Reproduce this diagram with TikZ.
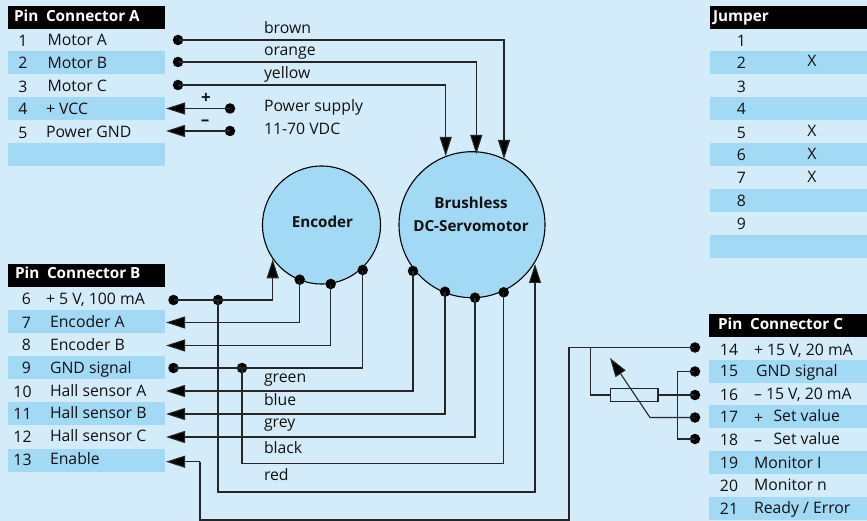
\documentclass[tikz,border=0pt]{standalone}
\usepackage{fontspec}
\setmainfont{Open Sans}
\usetikzlibrary{arrows.meta,calc}
\definecolor{bgc}{HTML}{D4ECFA}
\definecolor{rowc}{HTML}{A2D9F5}
\definecolor{inkc}{HTML}{111111}
\tikzset{
  lab/.style={inner sep=0pt,outer sep=0pt,text=inkc,font=\fontsize{15.8}{17}\selectfont,anchor=mid west,yshift=-2pt},
  num/.style={lab,anchor=mid},
  hd/.style={lab,text=white,font=\fontsize{15.3}{17}\selectfont\bfseries},
  bigb/.style={lab,anchor=mid,font=\fontsize{15.2}{17}\selectfont\bfseries},
  band/.style={fill=rowc,draw=none},
  headband/.style={fill=black,draw=none},
  pin/.style={circle,fill=black,inner sep=0pt,minimum size=10.5pt,outer sep=0pt},
  wire/.style={draw=black!85,line width=1.1pt},
  arrowwire/.style={wire,-{Triangle[length=19pt,width=12pt,fill=black]}},
  ball/.style={circle,draw=black,fill=rowc,line width=1.1pt,inner sep=0pt},
}
\begin{document}
\begin{tikzpicture}[x=1pt,y=-1pt]
\useasboundingbox (0,0) rectangle (867,521);
\fill[bgc] (0,0) rectangle (867,521);
% bands
\fill[headband] (8,6) rectangle (165,29);
\fill[headband] (8,264) rectangle (165,287);
\fill[headband] (709,314) rectangle (867,337);
\fill[headband] (710,6) rectangle (867,29);
\foreach \y/\h in {51/23,97/23,143/23}{\fill[band] (8,\y) rectangle (165,\y+\h);}
\foreach \y in {310,356,402,449}{\fill[band] (8,\y) rectangle (165,\y+23);}
\foreach \y in {360,405,451,497}{\fill[band] (709,\y) rectangle (867,\y+23);}
\foreach \y in {51,97,143,189,235}{\fill[band] (710,\y) rectangle (867,\y+23);}
% headers
\node[hd] (ha1) at (14,17) {Pin};
\node[hd] (ha2) at (46,17) {Connector A};
\node[hd] (hb1) at (15,274) {Pin};
\node[hd] (hb2) at (47,274) {Connector B};
\node[hd] (hc1) at (718,325) {Pin};
\node[hd] (hc2) at (750,325) {Connector C};
\node[hd] (hj) at (713,17) {Jumper};
% table A
\node[num] (na1) at (23,41.5) {1};
\node[num] (na2) at (23,64) {2};
\node[num] (na3) at (23,87.5) {3};
\node[num] (na4) at (23,110) {4};
\node[num] (na5) at (23,133.5) {5};
\node[lab] (la1) at (47.5,40.7) {Motor A};
\node[lab] (la2) at (47.5,63.5) {Motor B};
\node[lab] (la3) at (47.5,86.5) {Motor C};
\node[lab] (la4) at (46,109.5) {+ VCC};
\node[lab] (la5) at (46,132.5) {Power GND};
% table B
\node[num] (nb6) at (26.5,300) {6};
\node[num] (nb7) at (26.5,324) {7};
\node[num] (nb8) at (26.5,346) {8};
\node[num] (nb9) at (26.5,369) {9};
\node[num] (nb10) at (22.5,392.5) {10};
\node[num] (nb11) at (22.5,414.5) {11};
\node[num] (nb12) at (22.5,437.5) {12};
\node[num] (nb13) at (22.5,460.5) {13};
\node[lab] (lb6) at (46,299.5) {+ 5 V, 100 mA};
\node[lab] (lb7) at (50,323) {Encoder A};
\node[lab] (lb8) at (50,345.5) {Encoder B};
\node[lab] (lb9) at (50,368.5) {GND signal};
\node[lab] (lb10) at (50,391.5) {Hall sensor A};
\node[lab] (lb11) at (50,413.5) {Hall sensor B};
\node[lab] (lb12) at (50,436.5) {Hall sensor C};
\node[lab] (lb13) at (50,459.5) {Enable};
% table C
\node[num] (nc14) at (729,351) {14};
\node[num] (nc15) at (729,372) {15};
\node[num] (nc16) at (729,396) {16};
\node[num] (nc17) at (729,418) {17};
\node[num] (nc18) at (729,441) {18};
\node[num] (nc19) at (729,464) {19};
\node[num] (nc20) at (729,487) {20};
\node[num] (nc21) at (729,510) {21};
\node[lab] (lc14) at (754,350.5) {+ 15 V, 20 mA};
\node[lab] (lc15) at (756,371.5) {GND signal};
\node[lab] (lc16) at (754,395) {– 15 V, 20 mA};
\node[lab] (lc17a) at (754,419) {+};
\node[lab] (lc17) at (773.5,417) {Set value};
\node[lab] (lc18a) at (754,441) {–};
\node[lab] (lc18) at (773.5,439.5) {Set value};
\node[lab] (lc19) at (754,463.5) {Monitor I};
\node[lab] (lc20) at (754,486) {Monitor n};
\node[lab] (lc21) at (754,508.5) {Ready / Error};
% jumper
\node[num] (j1) at (741.5,41.5) {1};
\node[num] (j2) at (741.5,64) {2};
\node[num] (j3) at (741.5,87.5) {3};
\node[num] (j4) at (741.5,110) {4};
\node[num] (j5) at (741.5,133.5) {5};
\node[num] (j6) at (741.5,156) {6};
\node[num] (j7) at (741.5,179) {7};
\node[num] (j8) at (741.5,202) {8};
\node[num] (j9) at (741.5,225) {9};
\node[num] (x2) at (812,62) {X};
\node[num] (x5) at (812,132) {X};
\node[num] (x6) at (812,155) {X};
\node[num] (x7) at (812,178) {X};
% wire labels
\node[lab] (wbrown) at (264,29) {brown};
\node[lab] (worange) at (264,51) {orange};
\node[lab] (wyellow) at (264,74) {yellow};
\node[lab] (psa) at (264,107) {Power supply};
\node[lab] (psb) at (264,130) {11-70 VDC};
\node[lab] (wgreen) at (264,378) {green};
\node[lab] (wblue) at (264,401) {blue};
\node[lab] (wgrey) at (264,423) {grey};
\node[lab] (wblack) at (264,449) {black};
\node[lab] (wred) at (264,476) {red};
\node[num,font=\fontsize{17}{18}\selectfont\bfseries] (plus) at (206,98.5) {+};
\node[num,font=\fontsize{17}{18}\selectfont\bfseries] (minus) at (205,121) {–};
% balls
\node[ball,minimum size=118pt] (enc) at (321.5,225) {};
\node[ball,minimum size=146pt] (mot) at (472,224.7) {};
\node[bigb] (enct) at (322.5,222.5) {Encoder};
\node[bigb] (mota) at (471,203.5) {Brushless};
\node[bigb] (motb) at (471,226.5) {DC-Servomotor};
% pins
\foreach \n/\x/\y in {pa1/178/40,pa2/178/62,pa3/178/85,pp/230/108.5,pm/230/131,
  pb6/173.5/300,jb6/218/300,pb9/173.5/368,jb9/242/368,
  e1/299.7/279.7,e2/330.7/284,e3/362.7/270,
  m1/413/271,m2/445/291.7,m3/475/297.7,m4/503.7/292.3,
  c14/695/347.5,c15/695/371.5,c16/695/395,c17/695/417.5,c18/695/439}
  {\node[pin] (\n) at (\x,\y) {};}
% free-end coordinates
\coordinate (ta4) at (166,108.5);
\coordinate (ta5) at (166,131);
\coordinate (t7) at (166,322.5);
\coordinate (t8) at (166,345.5);
\coordinate (t10) at (166,391);
\coordinate (t11) at (166,414);
\coordinate (t12) at (166,437);
\coordinate (t13) at (166,461.7);
\coordinate (tm1) at (445.7,156);
\coordinate (tm2) at (476.3,154);
\coordinate (tm3) at (504,159);
\coordinate (te) at (272.7,259.3);
\coordinate (tm4) at (535,264);
% top motor wires
\draw[arrowwire] (pa1.center) -| (tm3);
\draw[arrowwire] (pa2.center) -| (tm2);
\draw[arrowwire] (pa3.center) -| (tm1);
% power
\draw[arrowwire] (pp.center) -- (ta4);
\draw[arrowwire] (pm.center) -- (ta5);
% connector B
\draw[arrowwire] (pb6.center) -| (te);
\draw[arrowwire] (e1.center) |- (t7);
\draw[arrowwire] (e2.center) |- (t8);
\draw[wire] (pb9.center) -| (e3.center);
\draw[arrowwire] (m1.center) |- (t10);
\draw[arrowwire] (m2.center) |- (t11);
\draw[arrowwire] (m3.center) |- (t12);
\coordinate (k9) at (242,463.7);
\draw[wire] (jb9.center) -- (k9) -| (m4.center);
\coordinate (k6) at (218,492);
\draw[arrowwire] (jb6.center) -- (k6) -| (tm4);
% enable
\coordinate (en1) at (200,461.7);
\coordinate (en2) at (200,520);
\coordinate (en3) at (569,520);
\coordinate (en4) at (569,347.5);
\draw[wire] (c14.center) -- (en4) -- (en3) -- (en2) -- (en1);
\draw[arrowwire] (en1) -- (t13);
% right side
\node[draw=black!85,line width=1.1pt,fill=none,minimum width=47.5pt,minimum height=13.5pt,inner sep=0pt] (res) at (634.25,395) {};
\coordinate (b14) at (590.5,347.5);
\coordinate (b16) at (590.5,395);
\draw[wire] (b14) -- (b16) -- (res.west);
\draw[wire] (res.east) -- (c16.center);
\coordinate (v15) at (677.5,371.5);
\coordinate (v18) at (677.5,439);
\draw[wire] (c15.center) -- (v15) -- (v18) -- (c18.center);
\coordinate (k17) at (650,417.5);
\coordinate (ta) at (610,358);
\draw[arrowwire] (c17.center) -- (k17) -- (ta);
\end{tikzpicture}
\end{document}
